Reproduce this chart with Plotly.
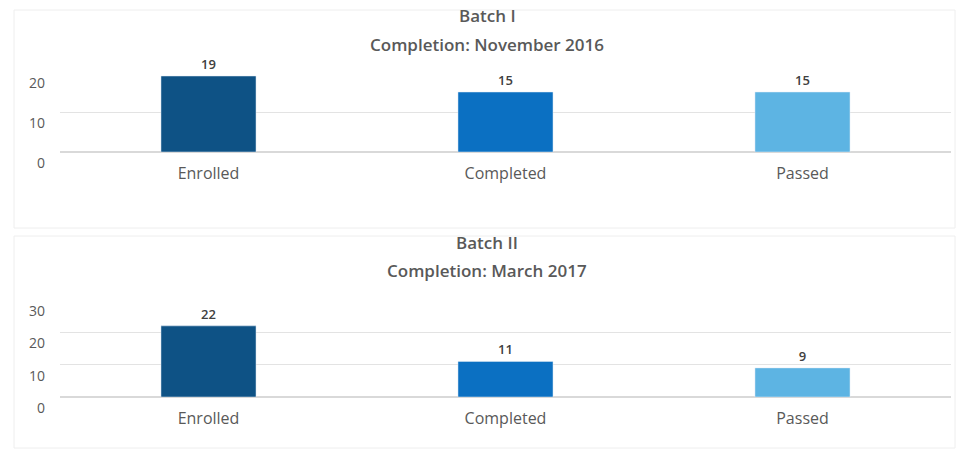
import plotly.graph_objects as go

categories = ["Enrolled", "Completed", "Passed"]
batch1_values = [19, 15, 15]
batch2_values = [22, 11, 9]
bar_colors = ["#0E5285", "#0B70C2", "#5DB4E3"]
batch1_title = ["Batch I", "Completion: November 2016"]
batch2_title = ["Batch II", "Completion: March 2017"]
batch1_ticks = [0, 10, 20]
batch2_ticks = [0, 10, 20, 30]

W, H = 961, 453
def py(p):
    return 1 - p / H

val_font = dict(size=13, color="#404040", family="Open Sans", weight=600)
fig = go.Figure()
fig.add_trace(go.Bar(x=categories, y=batch1_values, marker_color=bar_colors,
                     text=batch1_values, textposition="outside", textfont=val_font,
                     cliponaxis=False, xaxis="x", yaxis="y", showlegend=False))
fig.add_trace(go.Bar(x=categories, y=batch2_values, marker_color=bar_colors,
                     text=batch2_values, textposition="outside", textfont=val_font,
                     cliponaxis=False, xaxis="x2", yaxis="y2", showlegend=False))

xdom = [60 / W, 951 / W]
common_x = dict(showgrid=False, showline=False, zeroline=False, ticks="",
                tickfont=dict(size=16, color="#595959", family="Open Sans"),
                ticklabelstandoff=10, fixedrange=True, automargin=False)
common_y = dict(showgrid=True, gridcolor="#E3E3E3", gridwidth=1, zeroline=True,
                zerolinecolor="#D9D9D9", showline=False, ticks="",
                tickfont=dict(size=14, color="#595959", family="Open Sans"),
                ticklabelstandoff=14, ticklabelshift=11, automargin=False)

fig.update_layout(
    width=W, height=H,
    margin=dict(l=0, r=0, t=0, b=0, autoexpand=False),
    paper_bgcolor="white", plot_bgcolor="white",
    bargap=0.68,
    xaxis=dict(domain=xdom, anchor="y", **common_x),
    yaxis=dict(domain=[py(152), py(72)], range=[0, 20], tickvals=batch1_ticks,
               anchor="x", **common_y),
    xaxis2=dict(domain=xdom, anchor="y2", **common_x),
    yaxis2=dict(domain=[py(397), py(300)], range=[0, 30], tickvals=batch2_ticks,
                anchor="x2", **common_y),
)

title_font = dict(size=17, color="#595959", family="Open Sans", weight=600)
for lines, y1, y2 in [(batch1_title, 16, 44), (batch2_title, 243, 270)]:
    fig.add_annotation(text=lines[0], xref="paper", yref="paper", x=487 / W, y=py(y1),
                       showarrow=False, font=title_font, xanchor="center", yanchor="middle")
    fig.add_annotation(text=lines[1], xref="paper", yref="paper", x=487 / W, y=py(y2),
                       showarrow=False, font=title_font, xanchor="center", yanchor="middle")

# faint chart frames
for y0, y1 in [(10, 228), (236, 448)]:
    fig.add_shape(type="rect", xref="paper", yref="paper",
                  x0=14 / W, x1=955 / W, y0=py(y1), y1=py(y0),
                  line=dict(color="#EEEEEE", width=1))

fig.write_html("out.html", config={"displayModeBar": False},
               post_script="document.body.style.margin='0';")
